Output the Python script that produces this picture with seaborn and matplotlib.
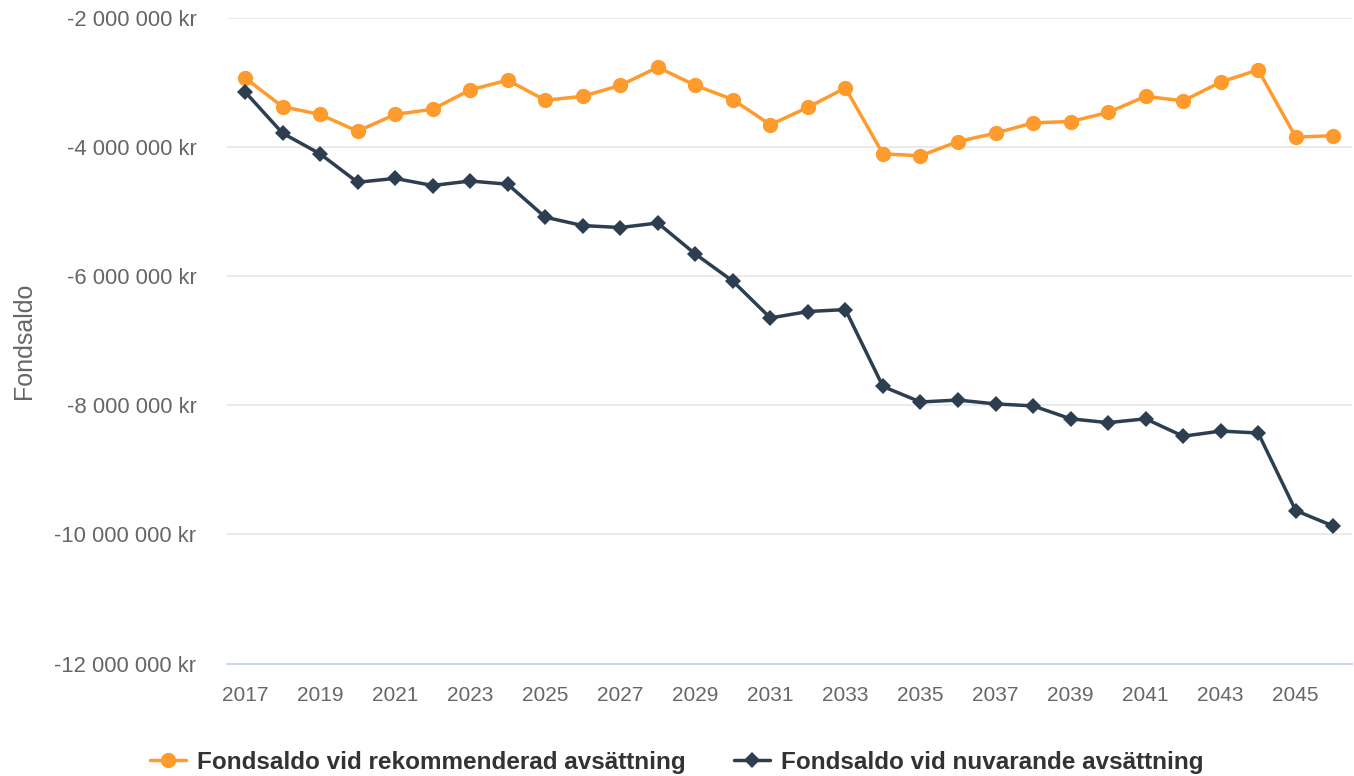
import matplotlib
matplotlib.use("Agg")
import matplotlib.pyplot as plt
import seaborn as sns
import pandas as pd
from matplotlib.ticker import FuncFormatter, MultipleLocator
from matplotlib.lines import Line2D

years = list(range(2017, 2047))
# values in millions of kr
rekommenderad = [-2.935, -3.38, -3.50, -3.76, -3.50, -3.42, -3.12, -2.97, -3.28, -3.22,
                 -3.05, -2.77, -3.05, -3.27, -3.66, -3.39, -3.09, -4.11, -4.14, -3.92,
                 -3.79, -3.63, -3.61, -3.47, -3.22, -3.29, -3.00, -2.81, -3.85, -3.83]
nuvarande = [-3.15, -3.79, -4.11, -4.55, -4.49, -4.60, -4.53, -4.58, -5.09, -5.22,
             -5.25, -5.18, -5.66, -6.08, -6.65, -6.55, -6.52, -7.71, -7.95, -7.92,
             -7.98, -8.01, -8.21, -8.27, -8.21, -8.48, -8.40, -8.43, -9.63, -9.87]
series_names = ["Fondsaldo vid rekommenderad avsättning", "Fondsaldo vid nuvarande avsättning"]
colors = ["#FF9A2C", "#2C3E50"]
x_ticks = list(range(2017, 2047, 2))

sns.set_style("white")
plt.rcParams['font.family'] = ['Liberation Sans', 'DejaVu Sans']

df = pd.DataFrame({
    "year": years * 2,
    "value": [v * 1e6 for v in rekommenderad] + [v * 1e6 for v in nuvarande],
    "series": [series_names[0]] * len(years) + [series_names[1]] * len(years),
})

fig = plt.figure(figsize=(13.54, 7.76), dpi=100)
ax = fig.add_axes([227 / 1354, 1 - 663.7 / 776, (1352 - 227) / 1354, (663.7 - 17.5) / 776])

sns.lineplot(data=df[df.series == series_names[0]], x="year", y="value", ax=ax,
             color=colors[0], linewidth=2.5, marker="o", markersize=11,
             markeredgewidth=0, legend=False, zorder=3)
sns.lineplot(data=df[df.series == series_names[1]], x="year", y="value", ax=ax,
             color=colors[1], linewidth=2.5, marker="D", markersize=8,
             markeredgewidth=0, legend=False, zorder=4)

ax.set_xlim(2016.52, 2046.5)
ax.set_ylim(-12e6, -2e6)
ax.yaxis.set_major_locator(MultipleLocator(2e6))
ax.set_xticks(x_ticks)
ax.set_xticklabels([str(t) for t in x_ticks])

def fmt(v, pos):
    s = f"{abs(v):,.0f}".replace(",", " ")
    return ("-" if v < 0 else "") + s + " kr"
ax.yaxis.set_major_formatter(FuncFormatter(fmt))

ax.grid(axis="y", color="#e6e6e6", linewidth=1.2)
ax.grid(axis="x", visible=False)
for s in ["top", "right", "left"]:
    ax.spines[s].set_visible(False)
ax.spines["bottom"].set_color("#ccd6eb")
ax.spines["bottom"].set_linewidth(1.5)
ax.spines["bottom"].set_zorder(5)

ax.tick_params(axis="x", colors="#ccd6eb", length=14.4, width=1.5, pad=2, labelsize=15, labelcolor="#666666")
ax.tick_params(axis="y", length=0, pad=22, labelsize=15.8, labelcolor="#666666")

ax.set_xlabel("")
ax.set_ylabel("Fondsaldo", fontsize=18, color="#666666")
ax.yaxis.set_label_coords(-(227 - 36) / 1125, 0.5)

handles = [
    Line2D([0], [0], color=colors[0], lw=2.5, marker="o", markersize=11, markeredgewidth=0),
    Line2D([0], [0], color=colors[1], lw=2.5, marker="D", markersize=8, markeredgewidth=0),
]
leg = fig.legend(handles, series_names, loc="center", bbox_to_anchor=(0.5, 1 - 762 / 776),
                 ncol=2, frameon=False, prop={"weight": "bold", "size": 17.5},
                 handlelength=1.45, handletextpad=0.47, columnspacing=2.0)
for t in leg.get_texts():
    t.set_color("#333333")

fig.savefig("out.png", dpi=100)
